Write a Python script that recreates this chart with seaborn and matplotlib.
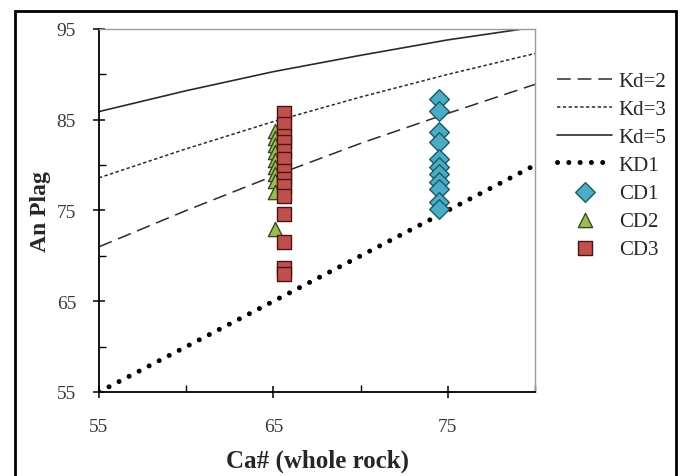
import matplotlib
matplotlib.use("Agg")
import matplotlib.pyplot as plt
from matplotlib.patches import Rectangle
from matplotlib.ticker import MultipleLocator
import seaborn as sns
import pandas as pd

# Partition curves: An of plagioclase vs Ca# of the whole rock
curve_x = [55, 60, 65, 70, 75, 80]
kd2_an = [71.0, 75.0, 78.8, 82.4, 85.7, 88.9]
kd3_an = [78.6, 81.8, 84.8, 87.5, 90.0, 92.3]
kd5_an = [85.9, 88.2, 90.3, 92.1, 93.8, 95.2]
kd1_x = [55, 80]
kd1_an = [55, 80]

# Samples
cd1_ca = 74.5
cd1_an = [87.3, 86.0, 83.6, 82.5, 80.7, 79.8, 79.0, 78.1, 77.4, 75.9, 75.2]
cd2_ca = 65.1
cd2_an = [83.8, 83.0, 82.2, 81.4, 80.6, 79.8, 79.0, 78.2, 77.0, 73.0]
cd3_ca = 65.6
cd3_an = [85.7, 84.5, 83.2, 82.5, 81.6, 80.7, 79.4, 78.5, 77.7, 76.6,
          74.6, 71.5, 68.7, 68.0]

x_ticks = [55, 65, 75]
y_ticks = [55, 65, 75, 85, 95]

sns.set_theme(style="white")
plt.rcParams["font.family"] = ["Liberation Serif", "DejaVu Serif"]

fig = plt.figure(figsize=(6.83, 4.77), dpi=100)
ax = fig.add_axes([99 / 683, 1 - 393 / 477, (535 - 99) / 683, (393 - 30) / 477])

curves = pd.DataFrame({"x": curve_x, "kd2": kd2_an, "kd3": kd3_an, "kd5": kd5_an})
line_col = "#2b2b2b"
sns.lineplot(data=curves, x="x", y="kd2", ax=ax, color=line_col, lw=1.1,
             linestyle=(0, (9, 4.5)), label="Kd=2")
sns.lineplot(data=curves, x="x", y="kd3", ax=ax, color=line_col, lw=1.1,
             linestyle=(0, (2.2, 1.6)), label="Kd=3")
sns.lineplot(data=curves, x="x", y="kd5", ax=ax, color=line_col, lw=1.2,
             linestyle="-", label="Kd=5")
sns.lineplot(x=kd1_x, y=kd1_an, ax=ax, color="black", lw=3.6,
             linestyle=(0, (0.01, 2.25)), dash_capstyle="round", label="KD1")

sns.scatterplot(x=[cd1_ca] * len(cd1_an), y=cd1_an, ax=ax, marker="D", s=100,
                color="#4BACC6", edgecolor="#1d5866", linewidth=1.0, label="CD1",
                zorder=3)
sns.scatterplot(x=[cd2_ca] * len(cd2_an), y=cd2_an, ax=ax, marker="^", s=105,
                color="#9BBB59", edgecolor="#3a4a1c", linewidth=1.0, label="CD2",
                zorder=3)
sns.scatterplot(x=[cd3_ca] * len(cd3_an), y=cd3_an, ax=ax, marker="s", s=100,
                color="#C0504D", edgecolor="#4a1414", linewidth=1.0, label="CD3",
                zorder=4)

ax.set_xlim(55, 80)
ax.set_ylim(55, 95)
ax.set_xticks(x_ticks)
ax.set_yticks(y_ticks)
ax.xaxis.set_minor_locator(MultipleLocator(5))
ax.yaxis.set_minor_locator(MultipleLocator(5))
ax.tick_params(which="major", direction="inout", length=9, width=1.1,
               color="black", labelsize=14, labelcolor="#3a3a3a")
ax.tick_params(axis="x", which="major", pad=14)
ax.tick_params(axis="y", which="major", pad=12)
ax.tick_params(which="minor", direction="in", length=5, width=1.0, color="black")
ax.tick_params(bottom=True, left=True, which="both")

for side in ("left", "bottom"):
    ax.spines[side].set_color("black")
    ax.spines[side].set_linewidth(1.3)
for side in ("top", "right"):
    ax.spines[side].set_color("#9a9a9a")
    ax.spines[side].set_linewidth(1.0)

ax.set_xlabel("Ca# (whole rock)", fontsize=18, fontweight="bold", labelpad=10)
ax.set_ylabel("An Plag", fontsize=17, fontweight="bold", labelpad=4)

handles, labels = ax.get_legend_handles_labels()
ax.legend(handles, labels, loc="upper left", bbox_to_anchor=(1.032, 0.906),
          frameon=False, fontsize=15, handlelength=2.65, handletextpad=0.3,
          labelspacing=0.4, borderaxespad=0)

fig.patches.append(Rectangle((15 / 683, -0.05), (676 - 15) / 683, 1.05 - 12 / 477,
                             transform=fig.transFigure, fill=False,
                             edgecolor="black", linewidth=2.0))

fig.savefig("out.png", dpi=100)
